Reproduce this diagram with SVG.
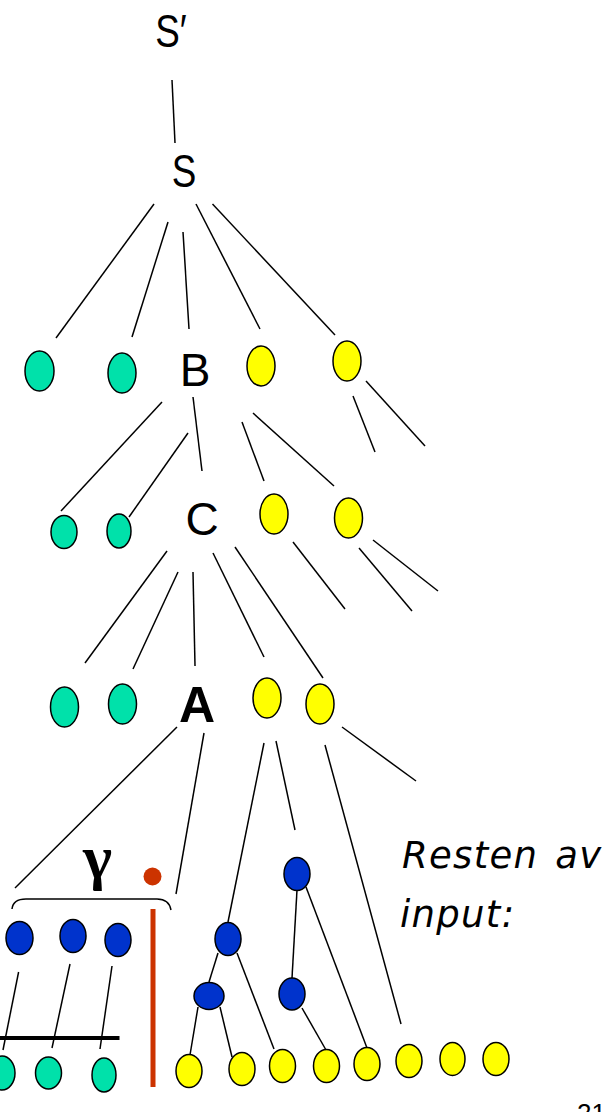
<svg xmlns="http://www.w3.org/2000/svg" width="608" height="1112" viewBox="0 0 608 1112">
<style>
.lbl{font-family:"Liberation Sans",Arial,sans-serif;font-size:46px;fill:#000;text-anchor:middle}
.g{fill:#00E1AA;stroke:#000;stroke-width:1.5}
.y{fill:#FFFF00;stroke:#000;stroke-width:1.5}
.b{fill:#0033CC;stroke:#000;stroke-width:1.5}
.ln line{stroke:#000;stroke-width:1.5}
.note{font-family:"DejaVu Sans",Verdana,sans-serif;font-style:italic;font-size:37px;letter-spacing:1.3px;word-spacing:4px;fill:#000}
</style>
<rect width="608" height="1112" fill="#fff"/>
<g id="connectors" class="ln">
<line x1="172" y1="80" x2="175" y2="143"/>
<line x1="154" y1="204" x2="56" y2="338"/>
<line x1="168" y1="222" x2="132" y2="337"/>
<line x1="183" y1="232" x2="189" y2="329"/>
<line x1="196" y1="204" x2="260" y2="329"/>
<line x1="212.5" y1="204" x2="335" y2="335"/>
<line x1="162" y1="402" x2="61" y2="511"/>
<line x1="188" y1="433" x2="129" y2="517"/>
<line x1="193" y1="397" x2="202" y2="471"/>
<line x1="242" y1="422" x2="264" y2="481"/>
<line x1="253" y1="413" x2="334" y2="486"/>
<line x1="353" y1="396" x2="375" y2="452"/>
<line x1="366" y1="381" x2="425" y2="446"/>
<line x1="167" y1="551" x2="85" y2="663"/>
<line x1="178" y1="572" x2="133" y2="669"/>
<line x1="193" y1="572" x2="195" y2="666"/>
<line x1="213" y1="553" x2="264" y2="657"/>
<line x1="235" y1="547" x2="323" y2="678"/>
<line x1="293" y1="542" x2="345" y2="609"/>
<line x1="359" y1="548" x2="412" y2="611"/>
<line x1="373" y1="540" x2="438" y2="591"/>
<line x1="177" y1="727" x2="15" y2="888"/>
<line x1="204" y1="733" x2="176" y2="894"/>
<line x1="264" y1="743" x2="228" y2="922"/>
<line x1="276" y1="741" x2="295" y2="830"/>
<line x1="325" y1="745" x2="401" y2="1024"/>
<line x1="342" y1="727" x2="416" y2="781"/>
<line x1="18.6" y1="972" x2="3" y2="1050"/>
<line x1="70" y1="964" x2="52" y2="1048"/>
<line x1="112" y1="966" x2="100" y2="1049"/>
<line x1="218" y1="953" x2="209" y2="982"/>
<line x1="237" y1="953" x2="274" y2="1049"/>
<line x1="198" y1="1007" x2="190" y2="1055"/>
<line x1="220" y1="1007" x2="232" y2="1057"/>
<line x1="297" y1="890" x2="292" y2="978"/>
<line x1="306" y1="887" x2="367" y2="1048"/>
<line x1="302" y1="1008" x2="326" y2="1050"/>
</g>
<g id="Sprime"><text class="lbl" transform="translate(171,47) scale(0.8,1)">S′</text></g>
<g id="S"><text class="lbl" transform="translate(184,187) scale(0.8,1)">S</text></g>
<g id="B"><text class="lbl" x="195" y="386">B</text></g>
<g id="C"><text class="lbl" x="202" y="535">C</text></g>
<g id="A"><text class="lbl" x="197" y="722" style="font-weight:bold;font-size:50px">A</text></g>
<g id="level1">
<ellipse class="g" cx="39.5" cy="371" rx="14.5" ry="20"/>
<ellipse class="g" cx="122" cy="373" rx="14" ry="20"/>
<ellipse class="y" cx="261" cy="366" rx="14" ry="20"/>
<ellipse class="y" cx="347" cy="361" rx="14" ry="20"/>
</g>
<g id="level2">
<ellipse class="g" cx="64" cy="532" rx="13" ry="16.5"/>
<ellipse class="g" cx="119" cy="531" rx="12" ry="17"/>
<ellipse class="y" cx="274" cy="514" rx="14" ry="20"/>
<ellipse class="y" cx="348.5" cy="518" rx="14" ry="20"/>
</g>
<g id="level3">
<ellipse class="g" cx="64.5" cy="707" rx="14" ry="20"/>
<ellipse class="g" cx="122.5" cy="704" rx="14" ry="20"/>
<ellipse class="y" cx="267" cy="698" rx="14" ry="20"/>
<ellipse class="y" cx="320" cy="704" rx="14" ry="20"/>
</g>
<g id="gamma">
<text x="97.5" y="878" style="font-family:'Liberation Serif','Times New Roman',serif;font-weight:bold;font-size:62px;text-anchor:middle">γ</text>
<path d="M12,909 Q13,899 26,899 L157,899 Q169,899 171,910" fill="none" stroke="#000" stroke-width="1.5"/>
</g>
<g id="dot"><circle cx="152.5" cy="876.5" r="9" fill="#CC3300"/></g>
<g id="stackline"><line x1="153" y1="909" x2="153" y2="1087" stroke="#CC3300" stroke-width="5"/></g>
<g id="stack-blue">
<ellipse class="b" cx="19.5" cy="938" rx="13.5" ry="16.5"/>
<ellipse class="b" cx="73" cy="936" rx="13" ry="16.5"/>
<ellipse class="b" cx="118" cy="940" rx="13" ry="16.5"/>
</g>
<g id="bar"><line x1="0" y1="1038" x2="119.5" y2="1038" stroke="#000" stroke-width="4"/></g>
<g id="stack-green">
<ellipse class="g" cx="2" cy="1073" rx="13" ry="17"/>
<ellipse class="g" cx="48.5" cy="1073" rx="13" ry="16"/>
<ellipse class="g" cx="104" cy="1075" rx="12" ry="17"/>
</g>
<g id="input-blue">
<ellipse class="b" cx="228" cy="939" rx="13" ry="16.5"/>
<ellipse class="b" cx="297" cy="874" rx="13" ry="16.5"/>
<ellipse class="b" cx="209" cy="996" rx="15" ry="13.5"/>
<ellipse class="b" cx="292" cy="994" rx="13" ry="16"/>
</g>
<g id="input-yellow">
<ellipse class="y" cx="189" cy="1071" rx="13" ry="16.5"/>
<ellipse class="y" cx="242" cy="1069" rx="13" ry="16.5"/>
<ellipse class="y" cx="282.5" cy="1066" rx="13" ry="16.5"/>
<ellipse class="y" cx="326.5" cy="1066" rx="13" ry="16.5"/>
<ellipse class="y" cx="367" cy="1064" rx="13" ry="16.5"/>
<ellipse class="y" cx="409" cy="1061" rx="13" ry="16.5"/>
<ellipse class="y" cx="452.5" cy="1059" rx="12.5" ry="16.5"/>
<ellipse class="y" cx="496" cy="1059" rx="13" ry="16.5"/>
</g>
<g id="note">
<text class="note" x="402" y="868">Resten av</text>
<text class="note" x="400" y="927">input:</text>
</g>
<g id="pagenum"><text x="577" y="1122" style="font-family:'Liberation Sans',Arial,sans-serif;font-size:26px;fill:#000">21</text></g>
</svg>
